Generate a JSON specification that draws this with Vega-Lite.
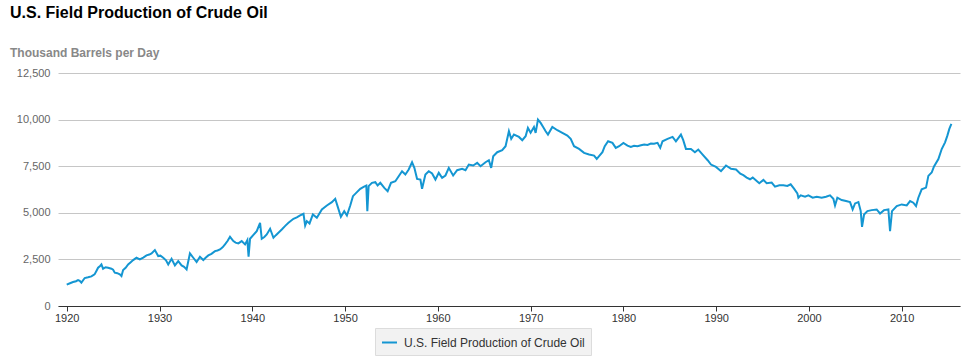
{
  "$schema": "https://vega.github.io/schema/vega-lite/v6.json",
  "width": 902,
  "height": 233,
  "autosize": {"type": "none"},
  "padding": {"left": 58, "top": 73, "right": 5, "bottom": 54},
  "background": "white",
  "config": {"view": {"stroke": null}, "font": "Liberation Sans"},
  "title": {
    "text": "U.S. Field Production of Crude Oil",
    "subtitle": "Thousand Barrels per Day",
    "anchor": "start",
    "frame": "group",
    "dx": -48,
    "font": "Liberation Sans",
    "fontSize": 16,
    "fontWeight": "bold",
    "color": "#000000",
    "subtitleFont": "Liberation Sans",
    "subtitleFontSize": 12,
    "subtitleFontWeight": "bold",
    "subtitleColor": "#888888",
    "subtitlePadding": 27,
    "offset": 8
  },
  "data": {"values": [
    {"year": 1920.0, "value": 1143}, {"year": 1920.35, "value": 1220}, {"year": 1920.68, "value": 1286},
    {"year": 1921.0, "value": 1330}, {"year": 1921.22, "value": 1393}, {"year": 1921.4, "value": 1350},
    {"year": 1921.58, "value": 1250}, {"year": 1921.94, "value": 1500}, {"year": 1922.3, "value": 1540},
    {"year": 1922.66, "value": 1589}, {"year": 1923.0, "value": 1696}, {"year": 1923.2, "value": 1880},
    {"year": 1923.38, "value": 2054}, {"year": 1923.6, "value": 2150}, {"year": 1923.74, "value": 2232},
    {"year": 1923.92, "value": 2000}, {"year": 1924.2, "value": 2080}, {"year": 1924.46, "value": 2054},
    {"year": 1924.82, "value": 2000}, {"year": 1925.0, "value": 1950}, {"year": 1925.18, "value": 1786},
    {"year": 1925.45, "value": 1760}, {"year": 1925.72, "value": 1696}, {"year": 1925.9, "value": 1607},
    {"year": 1926.08, "value": 1929}, {"year": 1926.35, "value": 2050}, {"year": 1926.62, "value": 2232},
    {"year": 1926.9, "value": 2350}, {"year": 1927.16, "value": 2464}, {"year": 1927.52, "value": 2589},
    {"year": 1927.88, "value": 2500}, {"year": 1928.25, "value": 2600}, {"year": 1928.6, "value": 2714},
    {"year": 1928.9, "value": 2760}, {"year": 1929.14, "value": 2821}, {"year": 1929.5, "value": 3000},
    {"year": 1929.86, "value": 2679}, {"year": 1930.1, "value": 2700}, {"year": 1930.4, "value": 2589},
    {"year": 1930.7, "value": 2450}, {"year": 1930.94, "value": 2232}, {"year": 1931.3, "value": 2536},
    {"year": 1931.66, "value": 2179}, {"year": 1932.02, "value": 2411}, {"year": 1932.38, "value": 2179},
    {"year": 1932.65, "value": 2100}, {"year": 1932.92, "value": 1964}, {"year": 1933.28, "value": 2821},
    {"year": 1933.64, "value": 2589}, {"year": 1934.0, "value": 2357}, {"year": 1934.36, "value": 2643},
    {"year": 1934.72, "value": 2464}, {"year": 1935.0, "value": 2600}, {"year": 1935.26, "value": 2714},
    {"year": 1935.6, "value": 2800}, {"year": 1935.98, "value": 2946}, {"year": 1936.25, "value": 2980},
    {"year": 1936.52, "value": 3036}, {"year": 1936.8, "value": 3150}, {"year": 1937.06, "value": 3304},
    {"year": 1937.35, "value": 3500}, {"year": 1937.6, "value": 3714}, {"year": 1937.96, "value": 3482},
    {"year": 1938.2, "value": 3400}, {"year": 1938.5, "value": 3357}, {"year": 1938.86, "value": 3482},
    {"year": 1939.22, "value": 3304}, {"year": 1939.47, "value": 3536}, {"year": 1939.6, "value": 2643},
    {"year": 1939.76, "value": 3607}, {"year": 1940.1, "value": 3800}, {"year": 1940.48, "value": 4018},
    {"year": 1940.84, "value": 4464}, {"year": 1941.02, "value": 3607}, {"year": 1941.3, "value": 3700},
    {"year": 1941.56, "value": 3839}, {"year": 1941.92, "value": 4143}, {"year": 1942.28, "value": 3661},
    {"year": 1942.55, "value": 3800}, {"year": 1942.82, "value": 3929}, {"year": 1943.18, "value": 4107},
    {"year": 1943.55, "value": 4300}, {"year": 1943.9, "value": 4464}, {"year": 1944.44, "value": 4679},
    {"year": 1944.8, "value": 4750}, {"year": 1945.16, "value": 4857}, {"year": 1945.52, "value": 4946},
    {"year": 1945.7, "value": 4321}, {"year": 1945.88, "value": 4554}, {"year": 1946.17, "value": 4429},
    {"year": 1946.53, "value": 4911}, {"year": 1946.96, "value": 4732}, {"year": 1947.5, "value": 5179},
    {"year": 1948.04, "value": 5393}, {"year": 1948.58, "value": 5571}, {"year": 1948.94, "value": 5750},
    {"year": 1949.19, "value": 5357}, {"year": 1949.55, "value": 4786}, {"year": 1949.91, "value": 5089},
    {"year": 1950.2, "value": 4857}, {"year": 1950.56, "value": 5393}, {"year": 1950.85, "value": 5893},
    {"year": 1951.28, "value": 6107}, {"year": 1951.64, "value": 6286}, {"year": 1952.0, "value": 6393},
    {"year": 1952.29, "value": 6464}, {"year": 1952.4, "value": 5089}, {"year": 1952.54, "value": 6429},
    {"year": 1952.9, "value": 6607}, {"year": 1953.26, "value": 6643}, {"year": 1953.51, "value": 6464},
    {"year": 1953.8, "value": 6607}, {"year": 1954.23, "value": 6339}, {"year": 1954.59, "value": 6161},
    {"year": 1954.95, "value": 6607}, {"year": 1955.42, "value": 6696}, {"year": 1955.78, "value": 6964},
    {"year": 1956.14, "value": 7232}, {"year": 1956.5, "value": 7054}, {"year": 1956.86, "value": 7321},
    {"year": 1957.22, "value": 7714}, {"year": 1957.47, "value": 7411}, {"year": 1957.76, "value": 6821},
    {"year": 1958.12, "value": 6786}, {"year": 1958.3, "value": 6286}, {"year": 1958.66, "value": 7054},
    {"year": 1959.02, "value": 7232}, {"year": 1959.38, "value": 7107}, {"year": 1959.74, "value": 6786},
    {"year": 1960.1, "value": 7143}, {"year": 1960.46, "value": 6875}, {"year": 1960.82, "value": 7000},
    {"year": 1961.18, "value": 7411}, {"year": 1961.65, "value": 7000}, {"year": 1962.08, "value": 7286},
    {"year": 1962.62, "value": 7357}, {"year": 1962.98, "value": 7286}, {"year": 1963.34, "value": 7589},
    {"year": 1963.81, "value": 7536}, {"year": 1964.24, "value": 7679}, {"year": 1964.6, "value": 7500},
    {"year": 1965.14, "value": 7714}, {"year": 1965.5, "value": 7821}, {"year": 1965.75, "value": 7411},
    {"year": 1965.97, "value": 8036}, {"year": 1966.4, "value": 8250}, {"year": 1966.94, "value": 8357},
    {"year": 1967.3, "value": 8571}, {"year": 1967.66, "value": 9375}, {"year": 1967.91, "value": 8964},
    {"year": 1968.2, "value": 9196}, {"year": 1968.74, "value": 9071}, {"year": 1969.1, "value": 8893},
    {"year": 1969.46, "value": 9107}, {"year": 1969.71, "value": 9554}, {"year": 1970.0, "value": 9300},
    {"year": 1970.36, "value": 9600}, {"year": 1970.54, "value": 9286}, {"year": 1970.79, "value": 10000},
    {"year": 1971.08, "value": 9821}, {"year": 1971.35, "value": 9600}, {"year": 1971.62, "value": 9375},
    {"year": 1971.87, "value": 9196}, {"year": 1972.34, "value": 9607}, {"year": 1972.88, "value": 9429},
    {"year": 1973.42, "value": 9286}, {"year": 1973.96, "value": 9143}, {"year": 1974.32, "value": 8964},
    {"year": 1974.68, "value": 8571}, {"year": 1975.22, "value": 8429}, {"year": 1975.76, "value": 8214},
    {"year": 1976.3, "value": 8125}, {"year": 1976.84, "value": 8071}, {"year": 1977.13, "value": 7893},
    {"year": 1977.38, "value": 8036}, {"year": 1977.74, "value": 8250}, {"year": 1977.99, "value": 8571},
    {"year": 1978.35, "value": 8839}, {"year": 1978.82, "value": 8750}, {"year": 1979.18, "value": 8482},
    {"year": 1979.54, "value": 8571}, {"year": 1980.0, "value": 8750}, {"year": 1980.44, "value": 8607},
    {"year": 1980.8, "value": 8536}, {"year": 1981.15, "value": 8600}, {"year": 1981.52, "value": 8571},
    {"year": 1981.9, "value": 8620}, {"year": 1982.24, "value": 8661}, {"year": 1982.6, "value": 8640},
    {"year": 1982.96, "value": 8714}, {"year": 1983.3, "value": 8700}, {"year": 1983.68, "value": 8750},
    {"year": 1983.97, "value": 8482}, {"year": 1984.22, "value": 8839}, {"year": 1984.76, "value": 8964},
    {"year": 1985.3, "value": 9071}, {"year": 1985.66, "value": 8839}, {"year": 1986.2, "value": 9196},
    {"year": 1986.45, "value": 8900}, {"year": 1986.74, "value": 8429}, {"year": 1987.28, "value": 8429},
    {"year": 1987.71, "value": 8250}, {"year": 1988.07, "value": 8393}, {"year": 1988.54, "value": 8125},
    {"year": 1989.08, "value": 7821}, {"year": 1989.44, "value": 7589}, {"year": 1989.98, "value": 7464},
    {"year": 1990.52, "value": 7232}, {"year": 1991.06, "value": 7536}, {"year": 1991.6, "value": 7357},
    {"year": 1992.14, "value": 7321}, {"year": 1992.6, "value": 7100}, {"year": 1992.93, "value": 7016},
    {"year": 1993.29, "value": 6890}, {"year": 1993.65, "value": 6800}, {"year": 1993.94, "value": 6890},
    {"year": 1994.37, "value": 6710}, {"year": 1994.65, "value": 6584}, {"year": 1995.09, "value": 6764},
    {"year": 1995.44, "value": 6584}, {"year": 1995.98, "value": 6620}, {"year": 1996.34, "value": 6404},
    {"year": 1996.81, "value": 6476}, {"year": 1997.24, "value": 6476}, {"year": 1997.67, "value": 6440},
    {"year": 1998.03, "value": 6530}, {"year": 1998.39, "value": 6296}, {"year": 1998.75, "value": 6044},
    {"year": 1998.86, "value": 5810}, {"year": 1999.11, "value": 5936}, {"year": 1999.58, "value": 5864},
    {"year": 1999.94, "value": 5936}, {"year": 2000.4, "value": 5810}, {"year": 2000.84, "value": 5864},
    {"year": 2001.37, "value": 5810}, {"year": 2001.84, "value": 5864}, {"year": 2002.27, "value": 5936},
    {"year": 2002.63, "value": 5756}, {"year": 2002.81, "value": 5396}, {"year": 2003.06, "value": 5810},
    {"year": 2003.53, "value": 5684}, {"year": 2003.99, "value": 5630}, {"year": 2004.43, "value": 5576},
    {"year": 2004.71, "value": 5180}, {"year": 2004.97, "value": 5504}, {"year": 2005.33, "value": 5576},
    {"year": 2005.58, "value": 5090}, {"year": 2005.72, "value": 4244}, {"year": 2005.94, "value": 4910},
    {"year": 2006.3, "value": 5090}, {"year": 2006.76, "value": 5144}, {"year": 2007.3, "value": 5180},
    {"year": 2007.66, "value": 4964}, {"year": 2008.09, "value": 5144}, {"year": 2008.56, "value": 5180},
    {"year": 2008.74, "value": 4010}, {"year": 2008.95, "value": 5090}, {"year": 2009.46, "value": 5360},
    {"year": 2010.0, "value": 5450}, {"year": 2010.54, "value": 5396}, {"year": 2010.9, "value": 5630},
    {"year": 2011.25, "value": 5540}, {"year": 2011.54, "value": 5360}, {"year": 2011.79, "value": 5810},
    {"year": 2012.15, "value": 6260}, {"year": 2012.62, "value": 6350}, {"year": 2012.87, "value": 6980},
    {"year": 2013.23, "value": 7160}, {"year": 2013.48, "value": 7484}, {"year": 2013.95, "value": 7880},
    {"year": 2014.31, "value": 8420}, {"year": 2014.67, "value": 8780}, {"year": 2014.92, "value": 9140},
    {"year": 2015.13, "value": 9500}, {"year": 2015.35, "value": 9770}
  ]},
  "mark": {"type": "line", "strokeWidth": 2},
  "encoding": {
    "x": {
      "field": "year",
      "type": "quantitative",
      "scale": {"domain": [1919.06, 2016.28], "nice": false, "zero": false},
      "axis": {
        "values": [1920, 1930, 1940, 1950, 1960, 1970, 1980, 1990, 2000, 2010],
        "format": "d",
        "title": null,
        "grid": false,
        "domainColor": "#333333",
        "tickColor": "#333333",
        "tickSize": 5,
        "labelFont": "Liberation Sans",
        "labelFontSize": 11,
        "labelColor": "#333333",
        "labelPadding": 1
      }
    },
    "y": {
      "field": "value",
      "type": "quantitative",
      "scale": {"domain": [0, 12500], "nice": false},
      "axis": {
        "values": [0, 2500, 5000, 7500, 10000, 12500],
        "format": ",d",
        "title": null,
        "domain": false,
        "ticks": false,
        "gridColor": "#c6c6c6",
        "gridWidth": 1,
        "labelPadding": 8,
        "labelFont": "Liberation Sans",
        "labelFontSize": 11,
        "labelColor": "#666666"
      }
    },
    "color": {
      "datum": "U.S. Field Production of Crude Oil",
      "scale": {"range": ["#1496d2"]},
      "legend": {
        "orient": "none",
        "legendX": 317,
        "legendY": 255,
        "title": null,
        "fillColor": "#f2f2f2",
        "strokeColor": "#dcdcdc",
        "padding": 6,
        "labelFont": "Liberation Sans",
        "labelFontSize": 12,
        "labelColor": "#333333",
        "labelOffset": 6,
        "labelLimit": 400,
        "symbolType": "stroke",
        "symbolStrokeWidth": 2,
        "symbolSize": 225
      }
    }
  }
}
